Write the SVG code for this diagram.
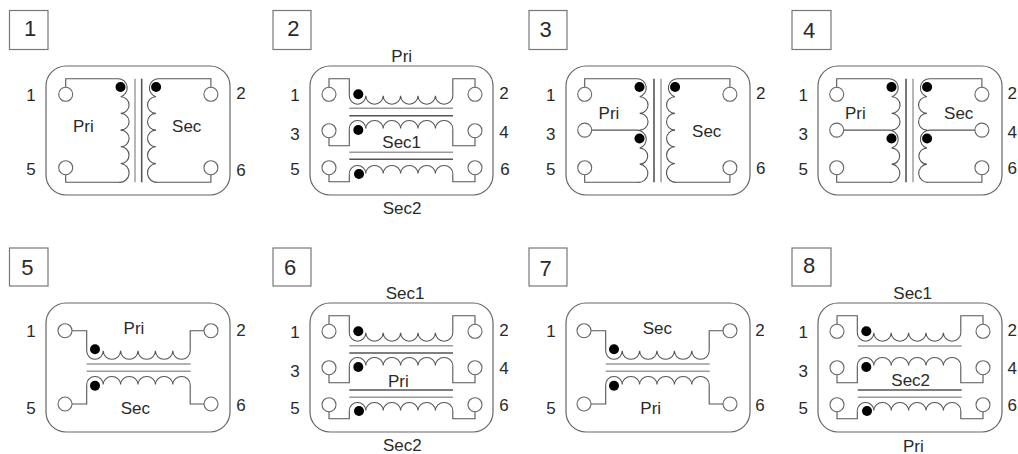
<svg xmlns="http://www.w3.org/2000/svg" width="1018" height="454" viewBox="0 0 1018 454">
<style>
text{font-family:"Liberation Sans",Arial,sans-serif;fill:#2a2a2a;text-anchor:middle;font-size:17px}
.num{font-size:22px}
.box{fill:#fff;stroke:#777;stroke-width:1.2}
.frame{fill:#fff;stroke:#666;stroke-width:1.2}
.w{fill:none;stroke:#555;stroke-width:1.1}
.pin{fill:#fff;stroke:#666;stroke-width:1.1}
.dot{fill:#000}
.core{stroke:#999;stroke-width:1.4;fill:none}
.core2{stroke:#555;stroke-width:1.6;fill:none}
</style>
<defs>
<path id="vtop" class="w" d="M19.7 21.3V12.7H72a9.2 9.2 0 0 1 2.700 18a8.300 8.300 0 0 1 0 16.700a8.300 8.300 0 0 1 0 16.700"/>
<path id="vplain" class="w" d="M74.700 64.100a8.300 8.300 0 0 1 0 16.700a8.300 8.300 0 0 1 0 16.700a9.400 9.400 0 0 1-2 18.800H19.700V108.700"/>
<path id="vtap" class="w" d="M26 64.100H72a9.200 9.200 0 0 1 2.700 18a8 8 0 0 1 0 16a9 9 0 0 1-2 18.200H19.700V108.700"/>
<g id="halfPlain">
<use href="#vtop"/><use href="#vplain"/>
<circle class="pin" cx="19.700" cy="28.300" r="7"/><circle class="pin" cx="19.700" cy="101.700" r="7"/>
<circle class="dot" cx="74.500" cy="21" r="5"/>
</g>
<g id="halfTap">
<use href="#vtop"/><use href="#vtap"/>
<circle class="pin" cx="19.700" cy="28.300" r="7"/><circle class="pin" cx="19.700" cy="64.100" r="7"/><circle class="pin" cx="19.700" cy="101.700" r="7"/>
<circle class="dot" cx="74.500" cy="21" r="5"/><circle class="dot" cx="74.500" cy="72.500" r="5"/>
</g>
<path id="hd" class="w" d="M0 0a8.250 8.500 0 0 0 16.500 0a8.700 8.500 0 0 0 17.400 0a8.700 8.500 0 0 0 17.400 0a8.700 8.500 0 0 0 17.400 0a8.700 8.500 0 0 0 17.400 0a8.700 8.500 0 0 0 17.400 0"/>
<path id="hu" class="w" d="M0 0a8.250 8 0 0 1 16.500 0a8.700 8 0 0 1 17.400 0a8.700 8 0 0 1 17.400 0a8.700 8 0 0 1 17.400 0a8.700 8 0 0 1 17.400 0a8.700 8 0 0 1 17.400 0"/>
<g id="triple">
<path class="w" d="M19 21.300V12.700H39.300V29.700M142.800 29.700V12.700H165V21.300"/>
<use href="#hd" x="39.300" y="29.700"/>
<path class="w" d="M19 71.700V79.700H39.300V62.500M142.800 62.500V79.700H165V71.700"/>
<use href="#hu" x="39.300" y="62.500"/>
<path class="w" d="M19 108.700V115.700H39.300V107.500M142.800 107.500V115.700H165V108.700"/>
<use href="#hu" x="39.300" y="107.500"/>
<circle class="pin" cx="19" cy="28.300" r="7"/><circle class="pin" cx="19" cy="64.700" r="7"/><circle class="pin" cx="19" cy="101.700" r="7"/>
<circle class="pin" cx="165" cy="28.300" r="7"/><circle class="pin" cx="165" cy="64.700" r="7"/><circle class="pin" cx="165" cy="101.700" r="7"/>
<circle class="dot" cx="48.300" cy="28.300" r="5"/><circle class="dot" cx="48.300" cy="64" r="5"/><circle class="dot" cx="49" cy="108" r="5"/>
</g>
<g id="double">
<path class="w" d="M26 27.700H40.700V47.800M144.200 47.800V27.700H158"/>
<use href="#hd" x="40.700" y="47.800"/>
<path class="w" d="M26 101H40.700V81.500M144.200 81.500V101H158"/>
<use href="#hu" x="40.700" y="81.500"/>
<circle class="pin" cx="19" cy="27.700" r="7"/><circle class="pin" cx="19" cy="101" r="7"/>
<circle class="pin" cx="165" cy="27.700" r="7"/><circle class="pin" cx="165" cy="101" r="7"/>
<circle class="dot" cx="49" cy="46.300" r="5"/><circle class="dot" cx="49" cy="82.700" r="5"/>
<path class="core" d="M40.700 61H144.700M40.700 68.300H144.700"/>
</g>
</defs>
<rect width="1018" height="454" fill="#fff"/>

<g id="panel-1">
<rect class="box" x="9.500" y="10.500" width="38.500" height="39"/><text class="num" x="30" y="36">1</text>
<rect class="frame" x="46" y="66" width="184" height="129" rx="20"/>
<g transform="translate(46 66)">
<use href="#halfPlain"/><use href="#halfPlain" transform="translate(184.600) scale(-1 1)"/>
<path class="core" d="M89 12.700V116.300"/><path class="core2" d="M95.700 12.700V116.300"/>
</g>
<text x="31" y="101">1</text><text x="31" y="175">5</text><text x="241" y="98.500">2</text><text x="241" y="176">6</text>
<text x="83.300" y="132">Pri</text><text x="186.700" y="132">Sec</text>
</g>

<g id="panel-2">
<rect class="box" x="273" y="10.500" width="38" height="39"/><text class="num" x="293.300" y="36">2</text>
<rect class="frame" x="310" y="66" width="183" height="129" rx="20"/>
<g transform="translate(310 66)">
<use href="#triple"/>
<path class="core" d="M39.300 42.300H143"/><path class="core2" d="M39.300 49.700H143"/>
<path class="core" d="M39.300 86.300H143"/><path class="core2" d="M39.300 93.300H143"/>
</g>
<text x="295" y="101">1</text><text x="295" y="140">3</text><text x="295" y="175">5</text>
<text x="504" y="98.500">2</text><text x="504" y="137.500">4</text><text x="505" y="175">6</text>
<text x="401.700" y="61.500">Pri</text><text x="401.700" y="148">Sec1</text><text x="402" y="214">Sec2</text>
</g>

<g id="panel-3">
<rect class="box" x="529" y="10.500" width="38" height="39"/><text class="num" x="545.700" y="37">3</text>
<rect class="frame" x="566" y="66" width="184" height="129" rx="20"/>
<g transform="translate(565 66)">
<use href="#halfTap"/><use href="#halfPlain" transform="translate(184.600) scale(-1 1)"/>
<path class="core2" d="M89 12.700V116.300"/><path class="core" d="M96 12.700V116.300"/>
</g>
<text x="550.700" y="101">1</text><text x="550.700" y="140">3</text><text x="550.700" y="175">5</text>
<text x="760.700" y="98.500">2</text><text x="760.700" y="173.500">6</text>
<text x="609" y="119">Pri</text><text x="706.700" y="137">Sec</text>
</g>

<g id="panel-4">
<rect class="box" x="792" y="10.500" width="39" height="39"/><text class="num" x="809" y="38">4</text>
<rect class="frame" x="818" y="66" width="184" height="129" rx="20"/>
<g transform="translate(817 66)">
<use href="#halfTap"/><use href="#halfTap" transform="translate(184.600) scale(-1 1)"/>
<path class="core2" d="M89 12.700V116.300"/><path class="core" d="M96 12.700V116.300"/>
</g>
<text x="803.300" y="101">1</text><text x="803.300" y="140">3</text><text x="803.300" y="175">5</text>
<text x="1012.300" y="98.500">2</text><text x="1012.300" y="137.500">4</text><text x="1012.300" y="173.500">6</text>
<text x="855.300" y="119">Pri</text><text x="958.700" y="119">Sec</text>
</g>

<g id="panel-5">
<rect class="box" x="9.500" y="248" width="38.500" height="38"/><text class="num" x="27.300" y="275">5</text>
<rect class="frame" x="46" y="303" width="184" height="129" rx="20"/>
<use href="#double" transform="translate(46 303)"/>
<text x="31" y="337">1</text><text x="31" y="413.500">5</text><text x="241" y="336">2</text><text x="241" y="411">6</text>
<text x="134" y="334">Pri</text><text x="135.300" y="413.500">Sec</text>
</g>

<g id="panel-6">
<rect class="box" x="273" y="248" width="38" height="38"/><text class="num" x="290" y="275">6</text>
<rect class="frame" x="310" y="303" width="183" height="129" rx="20"/>
<g transform="translate(310 303)">
<use href="#triple"/>
<path class="core" d="M39.300 42.700H143"/><path class="core2" d="M39.300 50H143"/>
<path class="core2" d="M39.300 87H143"/><path class="core" d="M39.300 94.300H143"/>
</g>
<text x="295" y="337.500">1</text><text x="295" y="376.500">3</text><text x="295" y="413.500">5</text>
<text x="504" y="336">2</text><text x="504" y="374">4</text><text x="504" y="411">6</text>
<text x="405" y="299">Sec1</text><text x="398.300" y="386.500">Pri</text><text x="402.300" y="451">Sec2</text>
</g>

<g id="panel-7">
<rect class="box" x="529" y="248" width="38" height="38"/><text class="num" x="545.700" y="276">7</text>
<rect class="frame" x="566" y="303" width="184" height="129" rx="20"/>
<use href="#double" transform="translate(565 303)"/>
<text x="551" y="337">1</text><text x="551" y="413.500">5</text><text x="760" y="336">2</text><text x="760" y="411">6</text>
<text x="657.300" y="334">Sec</text><text x="650.700" y="413.500">Pri</text>
</g>

<g id="panel-8">
<rect class="box" x="792" y="248" width="39" height="38"/><text class="num" x="809" y="273">8</text>
<rect class="frame" x="818" y="303" width="184" height="129" rx="20"/>
<g transform="translate(818 303)">
<use href="#triple"/>
<path class="core" d="M39.700 43H143.700"/>
<path class="core2" d="M39.700 87H143.700"/><path class="core" d="M39.700 94.300H143.700"/>
</g>
<text x="803.300" y="337.500">1</text><text x="803.300" y="376.500">3</text><text x="803.300" y="413.500">5</text>
<text x="1012.300" y="336">2</text><text x="1012.300" y="374">4</text><text x="1012.300" y="411">6</text>
<text x="912.700" y="298.500">Sec1</text><text x="910.700" y="386">Sec2</text><text x="913.300" y="452">Pri</text>
</g>
</svg>
